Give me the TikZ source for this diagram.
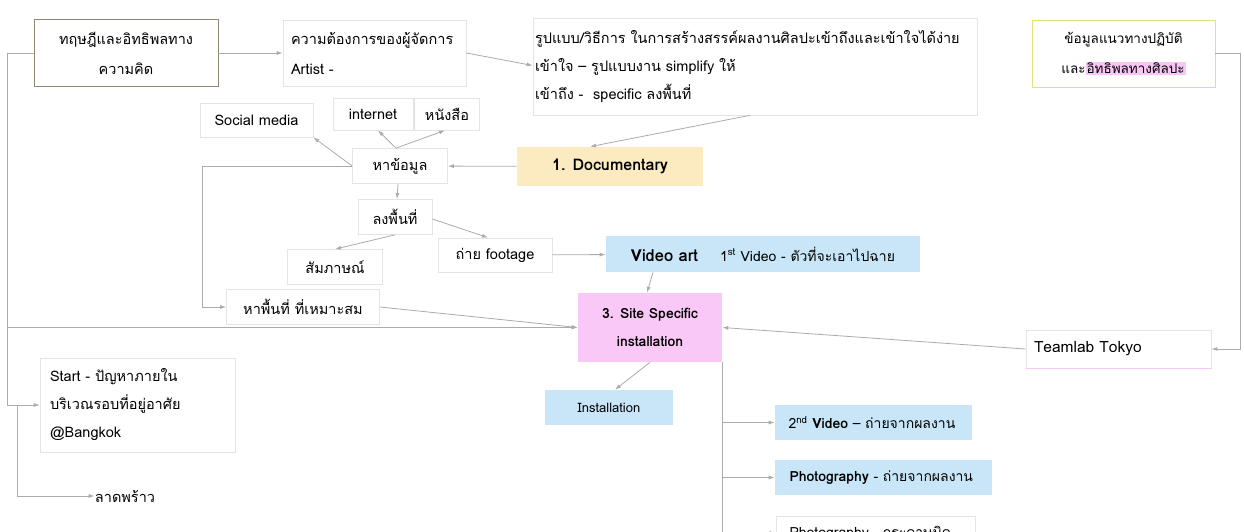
\documentclass[tikz,border=0pt]{standalone}
\usepackage{fontspec}
\setmainfont[Script=Thai]{Loma}
\usetikzlibrary{arrows.meta}
\definecolor{linegray}{HTML}{ABABAB}
\definecolor{boxline}{HTML}{E4E4E4}
\definecolor{theoryline}{HTML}{8E8870}
\definecolor{infoline}{HTML}{E4E07C}
\definecolor{docyellow}{HTML}{FCEBC0}
\definecolor{vidblue}{HTML}{C8E6F8}
\definecolor{sitepink}{HTML}{FAC8F6}
\definecolor{hlpink}{HTML}{F9C6F6}
\tikzset{
  box/.style = {draw=boxline, line width=0.7pt, inner sep=0pt, font=\fontsize{14.5}{28}\selectfont},
  fillbox/.style = {box, draw=none, fill=#1},
  flow/.style = {draw=linegray, line width=0.8pt, -{Latex[length=6pt,width=4pt]}},
  link/.style = {draw=linegray, line width=0.8pt}
}

\begin{document}
\begin{tikzpicture}[x=1pt, y=-1pt]
\useasboundingbox (0,0) rectangle (1244,532);
\clip (0,0) rectangle (1244,532);
% top row
\node [box, draw=theoryline, minimum width=184pt, minimum height=67pt, align=center, font=\fontsize{14.5}{30}\selectfont] (theory) at (126,53) {ทฤษฎีและอิทธิพลทาง\\ความคิด};
\node [box, minimum width=183pt, minimum height=66pt, text width=167pt, align=left, font=\fontsize{14.5}{30}\selectfont] (needs) at (374.5,53) {ความต้องการของผู้จัดการ\\Artist -};
\node [box, minimum width=444pt, minimum height=97pt, text width=440pt, align=left] (form) at (755,66.5) {รูปแบบ/วิธีการ ในการสร้างสรรค์ผลงานศิลปะเข้าถึงและเข้าใจได้ง่าย\\เข้าใจ -- รูปแบบงาน simplify ให้\\เข้าถึง -\ \ specific ลงพื้นที่};
\node [box, draw=infoline, minimum width=183pt, minimum height=67pt, align=center, font=\fontsize{13.5}{30}\selectfont] (info) at (1123.5,53.5) {ข้อมูลแนวทางปฏิบัติ\\และ{\setlength{\fboxsep}{1pt}\colorbox{hlpink}{อิทธิพลทางศิลปะ}}};
% search branch
\node [box, minimum width=113pt, minimum height=34pt] (social) at (256.5,120) {Social media};
\node [box, minimum width=80pt, minimum height=32pt] (internet) at (373,114) {internet};
\node [box, minimum width=65pt, minimum height=32pt] (books) at (447,114) {หนังสือ};
\node [box, minimum width=95pt, minimum height=35pt] (data) at (400,166) {หาข้อมูล};
\node [fillbox=docyellow, minimum width=186pt, minimum height=39pt, font=\fontsize{16}{18}\selectfont\bfseries] (doc) at (610,166.5) {1. Documentary};
\node [box, minimum width=74pt, minimum height=35pt] (field) at (395,217) {ลงพื้นที่};
\node [box, minimum width=95pt, minimum height=35pt] (interview) at (335,267) {สัมภาษณ์};
\node [box, minimum width=114pt, minimum height=34pt] (footage) at (495,255) {ถ่าย footage};
\node [fillbox=vidblue, minimum width=314pt, minimum height=36pt, font=\fontsize{14}{18}\selectfont] (video) at (763,254) {{\fontsize{16.5}{18}\selectfont\bfseries Video art}\hspace{22pt}1\textsuperscript{st} Video - ตัวที่จะเอาไปฉาย};
\node [box, minimum width=153pt, minimum height=35pt] (place) at (303,307) {หาพื้นที่ ที่เหมาะสม};
% centre
\node [fillbox=sitepink, minimum width=144pt, minimum height=69pt, align=center, font=\fontsize{14}{28}\selectfont\bfseries] (site) at (650,327.5) {3. Site Specific\\installation};
\node [box, minimum width=185pt, minimum height=38pt, text width=169pt, align=left, font=\fontsize{15.5}{18}\selectfont] (teamlab) at (1118.5,349) {Teamlab Tokyo};
\draw [sitepink, line width=1pt] (teamlab.south west) -- (teamlab.south east);
% left side
\node [box, minimum width=195pt, minimum height=94pt, text width=175pt, align=left] (start) at (137.5,405) {Start - ปัญหาภายใน\\บริเวณรอบที่อยู่อาศัย\\@Bangkok};
\node [box, draw=none, minimum width=60pt, minimum height=30pt] (ladprao) at (125,496) {ลาดพร้าว};
% outputs
\node [fillbox=vidblue, minimum width=128pt, minimum height=35pt, font=\fontsize{13}{16}\selectfont] (install) at (609,407.5) {Installation};
\node [fillbox=vidblue, minimum width=197pt, minimum height=35pt, text width=170pt, align=left, font=\fontsize{14}{18}\selectfont] (video2) at (873.5,422.5) {2\textsuperscript{nd} {\bfseries Video} -- ถ่ายจากผลงาน};
\node [fillbox=vidblue, minimum width=217pt, minimum height=35pt, text width=188pt, align=left, font=\fontsize{14}{18}\selectfont] (photo) at (883.5,477.5) {{\bfseries Photography} - ถ่ายจากผลงาน};
\node [box, minimum width=199pt, minimum height=34pt, text width=172pt, align=left, font=\fontsize{14}{18}\selectfont] (photo2) at (875.5,533) {Photography - กระดาษมิด};
% connectors
\draw [flow] (theory) -- (needs);
\draw [flow] (needs.east) -- ([yshift=1pt]form.west);
\draw [flow] ([xshift=-5pt]form.south) -- ([xshift=-20pt]doc.north);
\draw [flow] (doc) -- (data);
\draw [flow] (data.west) -- (social.south east);
\draw [flow] ([xshift=-4pt]data.north) -- ([xshift=5pt]internet.south);
\draw [flow] ([xshift=-4pt]data.north) -- ([xshift=-2pt]books.south);
\draw [flow] (data.west) -- ++(-150,0) |- (place.west);
\draw [flow] ([xshift=-2pt]data.south) -- ([xshift=2pt]field.north);
\draw [flow] (field.south) -- (interview.north);
\draw [flow] ([yshift=-2pt]field.east) -- ([xshift=-7pt]footage.north);
\draw [flow] (footage) -- (video);
\draw [flow] ([xshift=-110pt]video.south) -- ([xshift=-3pt]site.north);
\draw [flow] (place.east) -- (site.west);
\draw [flow] (theory.west) -- ++(-26,0) |- (site.west);
\draw [flow] (theory.west) -- ++(-26,0) |- (start.west);
\draw [flow] ([xshift=-22pt]start.west) |- (ladprao.west);
\draw [flow] (info.east) -- ++(25,0) |- (teamlab.east);
\draw [flow] (teamlab.west) -- (site.east);
\draw [flow] (site.south) -- ([xshift=6pt]install.north);
\draw [link] (site.south east) -- ++(0,200);
\draw [flow] (site.south east |- video2.west) -- (video2.west);
\draw [flow] (site.south east |- photo.west) -- (photo.west);
\draw [flow] (site.south east |- photo2.west) -- (photo2.west);
\end{tikzpicture}
\end{document}
